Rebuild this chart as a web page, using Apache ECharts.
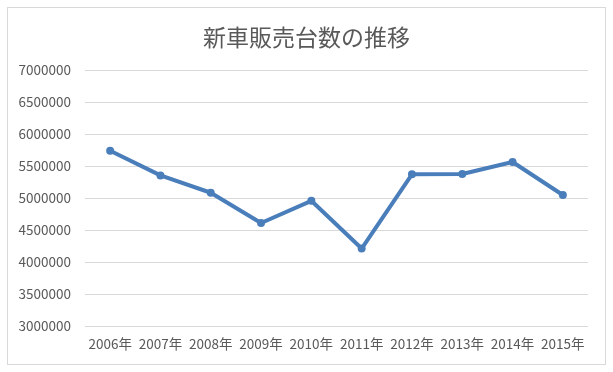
<!DOCTYPE html>
<html>
<head>
<meta charset="utf-8">
<script src="https://cdn.jsdelivr.net/npm/echarts@6/dist/echarts.min.js"></script>
<style>
html,body{margin:0;padding:0;background:#fff;}
#frame{position:absolute;left:7px;top:7px;width:599px;height:358px;border:1px solid #d9d9d9;box-sizing:border-box;}
#chart{position:absolute;left:0;top:0;width:613px;height:372px;}
</style>
</head>
<body>
<div id="frame"></div>
<div id="chart"></div>
<script>
const titleText = '新車販売台数の推移';
const categories = ['2006年','2007年','2008年','2009年','2010年','2011年','2012年','2013年','2014年','2015年'];
const salesValues = [5739000, 5353000, 5082000, 4609000, 4956000, 4210000, 5370000, 5376000, 5563000, 5047000];
const yMin = 3000000;
const yMax = 7000000;
const yStep = 500000;

const chart = echarts.init(document.getElementById('chart'), null, {renderer:'canvas'});
chart.setOption({
  animation: false,
  backgroundColor: 'transparent',
  title: {
    text: titleText,
    left: 'center',
    top: 21,
    textStyle: {fontFamily: '"Noto Sans CJK JP"', fontSize: 23, fontWeight: 'normal', color: '#595959'}
  },
  grid: {left: 85, right: 25, top: 70, bottom: 46, containLabel: false},
  xAxis: {
    type: 'category',
    data: categories,
    boundaryGap: true,
    axisLine: {show: false},
    axisTick: {show: false},
    axisLabel: {margin: 11, color: '#595959', fontSize: 13.5, fontFamily: '"Noto Sans CJK JP"', interval: 0}
  },
  yAxis: {
    type: 'value',
    min: yMin,
    max: yMax,
    interval: yStep,
    axisLine: {show: false},
    axisTick: {show: false},
    axisLabel: {margin: 14, color: '#595959', fontSize: 13.5, fontFamily: '"Noto Sans CJK JP"', formatter: function (v) { return String(v); }},
    splitLine: {lineStyle: {color: '#d9d9d9', width: 1}}
  },
  series: [{
    type: 'line',
    data: salesValues,
    symbol: 'circle',
    symbolSize: 8,
    lineStyle: {color: '#4a7ebb', width: 4},
    itemStyle: {color: '#4a7ebb'}
  }]
});
</script>
</body>
</html>
